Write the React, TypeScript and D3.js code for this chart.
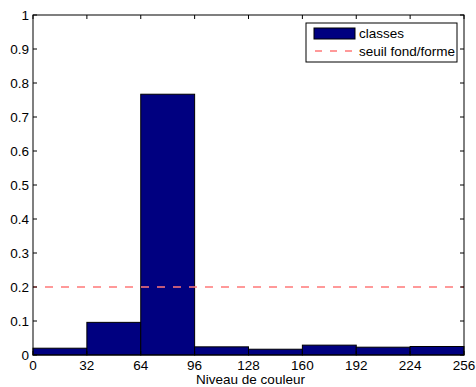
import { useEffect, useRef } from 'react'
import * as d3 from 'd3'

const binEdges = [0, 32, 64, 96, 128, 160, 192, 224, 256]
const binValues = [0.02, 0.096, 0.767, 0.024, 0.017, 0.029, 0.023, 0.025]
const yTicks = [0, 0.1, 0.2, 0.3, 0.4, 0.5, 0.6, 0.7, 0.8, 0.9, 1]
const threshold = 0.2
const legendLabels = ['classes', 'seuil fond/forme']
const xLabel = 'Niveau de couleur'

const W = 476
const H = 387
const m = { left: 33, right: 12, top: 15, bottom: 32 }
const font = 'Liberation Sans, Arial, Helvetica, sans-serif'
const fs = 13.5
const red = '#ff7878'

export default function App() {
  const ref = useRef<SVGSVGElement>(null)

  useEffect(() => {
    if (!ref.current) return
    const svg = d3.select(ref.current)
    svg.selectAll('*').remove()

    const x = d3.scaleLinear().domain([0, 256]).range([m.left, W - m.right])
    const y = d3.scaleLinear().domain([0, 1]).range([H - m.bottom, m.top])
    const x0 = m.left, x1 = W - m.right, y0 = H - m.bottom, y1 = m.top

    svg.append('rect').attr('width', W).attr('height', H).attr('fill', '#fff')

    // bars
    svg.selectAll('rect.bar').data(binValues).enter().append('rect')
      .attr('class', 'bar')
      .attr('x', (_, i) => x(binEdges[i]))
      .attr('width', (_, i) => x(binEdges[i + 1]) - x(binEdges[i]))
      .attr('y', d => y(d))
      .attr('height', d => y(0) - y(d))
      .attr('fill', '#000080')
      .attr('stroke', '#000')
      .attr('stroke-width', 1)

    // threshold
    svg.append('line')
      .attr('x1', x0).attr('x2', x1)
      .attr('y1', y(threshold)).attr('y2', y(threshold))
      .attr('stroke', red).attr('stroke-width', 1.3)
      .attr('stroke-dasharray', '8,8').attr('stroke-dashoffset', 4)

    // axes box
    svg.append('rect')
      .attr('x', x0).attr('y', y1).attr('width', x1 - x0).attr('height', y0 - y1)
      .attr('fill', 'none').attr('stroke', '#000').attr('stroke-width', 1)

    const tl = 4
    const xt = binEdges
    svg.selectAll('line.xt').data(xt).enter().append('line')
      .attr('x1', d => x(d)).attr('x2', d => x(d)).attr('y1', y0).attr('y2', y0 - tl)
      .attr('stroke', '#000')
    svg.selectAll('line.xt2').data(xt).enter().append('line')
      .attr('x1', d => x(d)).attr('x2', d => x(d)).attr('y1', y1).attr('y2', y1 + tl)
      .attr('stroke', '#000')
    svg.selectAll('line.yt').data(yTicks).enter().append('line')
      .attr('x1', x0).attr('x2', x0 + tl).attr('y1', d => y(d)).attr('y2', d => y(d))
      .attr('stroke', '#000')
    svg.selectAll('line.yt2').data(yTicks).enter().append('line')
      .attr('x1', x1).attr('x2', x1 - tl).attr('y1', d => y(d)).attr('y2', d => y(d))
      .attr('stroke', '#000')

    svg.selectAll('text.xl').data(xt).enter().append('text')
      .attr('x', d => x(d)).attr('y', y0 + 15)
      .attr('text-anchor', 'middle')
      .attr('font-family', font).attr('font-size', fs)
      .text(d => String(d))
    svg.selectAll('text.yl').data(yTicks).enter().append('text')
      .attr('x', x0 - 4).attr('y', d => y(d) + 4.5)
      .attr('text-anchor', 'end')
      .attr('font-family', font).attr('font-size', fs)
      .text(d => String(d))

    svg.append('text')
      .attr('x', (x0 + x1) / 2 + 2).attr('y', H - 3)
      .attr('text-anchor', 'middle')
      .attr('font-family', font).attr('font-size', fs)
      .text(xLabel)

    // legend
    const lg = svg.append('g')
    lg.append('rect')
      .attr('x', 306).attr('y', 23).attr('width', 151).attr('height', 39)
      .attr('fill', '#fff').attr('stroke', '#000')
    lg.append('rect')
      .attr('x', 314).attr('y', 28).attr('width', 41).attr('height', 11)
      .attr('fill', '#000080').attr('stroke', '#000')
    lg.append('line')
      .attr('x1', 315).attr('x2', 355).attr('y1', 51).attr('y2', 51)
      .attr('stroke', red).attr('stroke-width', 1.3).attr('stroke-dasharray', '7,8')
    legendLabels.forEach((t, i) => {
      lg.append('text')
        .attr('x', 359).attr('y', 38 + i * 18)
        .attr('font-family', font).attr('font-size', fs)
        .text(t)
    })
  }, [])

  return (
    <svg ref={ref} width={W} height={H}
      style={{ position: 'absolute', left: 0, top: 0 }} />
  )
}
